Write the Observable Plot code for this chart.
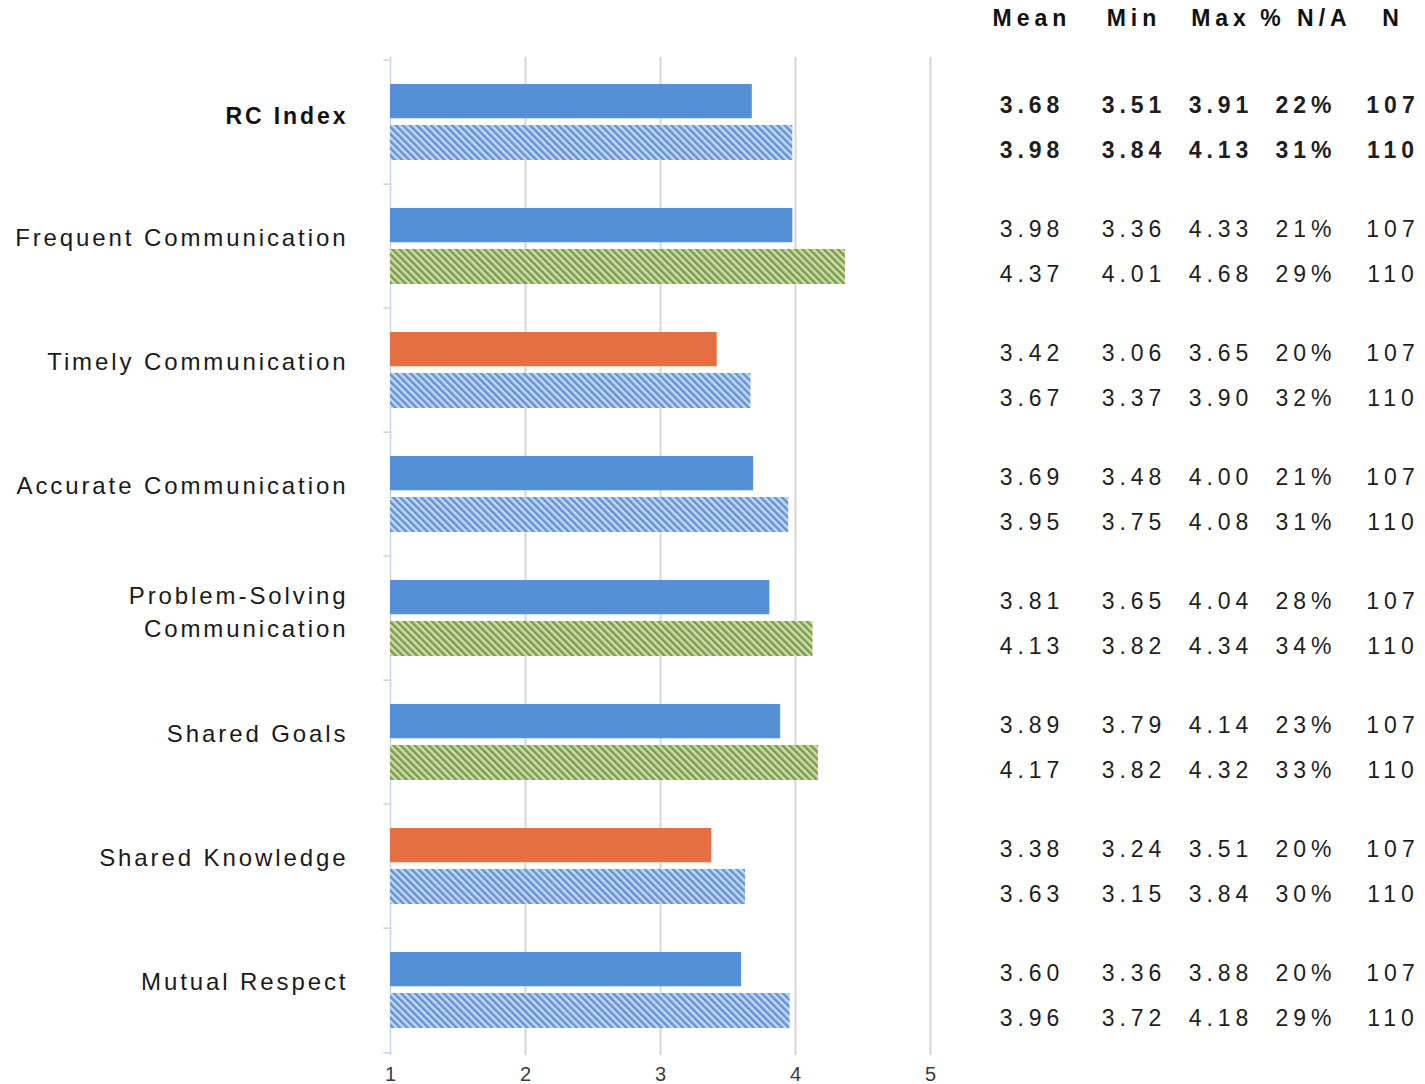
<!DOCTYPE html>
<html><head><meta charset="utf-8">
<script src="https://cdn.jsdelivr.net/npm/d3@7"></script>
<script src="https://cdn.jsdelivr.net/npm/@observablehq/plot@0.6"></script>
<style>body{margin:0;background:#fff;}</style>
</head><body><div id="chart"></div>
<script>
// ---- data ----
const categories = ["RC Index","Frequent Communication","Timely Communication","Accurate Communication","Problem-Solving\nCommunication","Shared Goals","Shared Knowledge","Mutual Respect"];
const mean1 = [3.68,3.98,3.42,3.69,3.81,3.89,3.38,3.60];
const min1  = [3.51,3.36,3.06,3.48,3.65,3.79,3.24,3.36];
const max1  = [3.91,4.33,3.65,4.00,4.04,4.14,3.51,3.88];
const na1   = ["22%","21%","20%","21%","28%","23%","20%","20%"];
const n1    = [107,107,107,107,107,107,107,107];
const mean2 = [3.98,4.37,3.67,3.95,4.13,4.17,3.63,3.96];
const min2  = [3.84,4.01,3.37,3.75,3.82,3.82,3.15,3.72];
const max2  = [4.13,4.68,3.90,4.08,4.34,4.32,3.84,4.18];
const na2   = ["31%","29%","32%","31%","34%","33%","30%","29%"];
const n2    = [110,110,110,110,110,110,110,110];
// status flags: series 1 "low" drawn orange; series 2 "higher" drawn green hatch
const status1 = ["ok","ok","low","ok","ok","ok","low","ok"];
const status2 = ["same","higher","same","same","higher","higher","same","same"];
const headers = ["Mean","Min","Max","% N/A","N"];
const xTicks = [1,2,3,4,5];

// ---- build ----
const rows = categories.map((c,i)=>({cat:c, i, mean1:mean1[i], min1:min1[i], max1:max1[i], na1:na1[i], n1:n1[i],
  mean2:mean2[i], min2:min2[i], max2:max2[i], na2:na2[i], n2:n2[i], s1:status1[i], s2:status2[i]}));
const first = rows.filter(d => d.i === 0), rest = rows.filter(d => d.i > 0);

const W = 1425, H = 1084, mTop = 57, mBottom = 29, mLeft = 390, mRight = 495;
const bandH = (H - mTop - mBottom) / categories.length;
const FONT = "'Liberation Sans', Arial, sans-serif";
const BLUE = "#5590d6", ORANGE = "#e56f42";
const colCenters = [1029, 1131, 1218, 1303, 1390];
const keys1 = ["mean1","min1","max1","na1","n1"];
const keys2 = ["mean2","min2","max2","na2","n2"];
const fmt = (k) => (d) => (k.startsWith("mean") || k.startsWith("min") || k.startsWith("max")) ? d[k].toFixed(2) : String(d[k]);

const tableFont = 23, tableLS = 5, labelLS = 2.9;
const R = W - mRight;
const tableMarks = [];
colCenters.forEach((cx, j) => {
  const dx = cx - R + tableLS / 2;
  for (const [subset, weight] of [[first, "bold"], [rest, "normal"]]) {
    tableMarks.push(Plot.text(subset, {y: "cat", frameAnchor: "right", dx, dy: -17, text: fmt(keys1[j]),
      fontSize: tableFont, fontWeight: weight, fill: "#1e1e1e", textAnchor: "middle"}));
    tableMarks.push(Plot.text(subset, {y: "cat", frameAnchor: "right", dx, dy: 28, text: fmt(keys2[j]),
      fontSize: tableFont, fontWeight: weight, fill: "#1e1e1e", textAnchor: "middle"}));
  }
  tableMarks.push(Plot.text([headers[j]], {frameAnchor: "top-right", lineAnchor: "middle", dx,
    dy: 18 - mTop, text: d => d, fontSize: tableFont, fontWeight: "bold", fill: "#111", textAnchor: "middle"}));
});

const single = rest.filter(d => !d.cat.includes("\n")), multi = rest.filter(d => d.cat.includes("\n"));
const labelDx = -45 + labelLS;

const chart = Plot.plot({
  width: W, height: H,
  marginTop: mTop, marginBottom: mBottom, marginLeft: mLeft, marginRight: mRight,
  style: {fontFamily: FONT, background: "#fff", overflow: "visible"},
  x: {domain: [1,5], axis: null},
  y: {type: "band", domain: categories, padding: 0, axis: null},
  marks: [
    Plot.ruleX([2,3,4,5], {stroke: "#d6d6d6", strokeWidth: 2}),
    Plot.ruleX([1], {stroke: "#c6d4e8", strokeWidth: 1.5}),
    Plot.ruleY(categories, {y: d => d, x1: 0.95, x2: 1, stroke: "#c6d4e8", strokeWidth: 1.5, dy: -bandH/2}),
    Plot.ruleY([categories[categories.length-1]], {y: d => d, x1: 0.95, x2: 1, stroke: "#c6d4e8", strokeWidth: 1.5, dy: bandH/2}),
    // series 1 (solid)
    Plot.barX(rows.filter(d => d.s1 === "ok"), {y: "cat", x1: 1, x2: "mean1", fill: BLUE, insetTop: 24, insetBottom: bandH - 59}),
    Plot.barX(rows.filter(d => d.s1 === "low"), {y: "cat", x1: 1, x2: "mean1", fill: ORANGE, insetTop: 24, insetBottom: bandH - 59}),
    // series 2 (hatched)
    Plot.barX(rows.filter(d => d.s2 === "same"), {y: "cat", x1: 1, x2: "mean2", fill: "url(#hatchBlue)", insetTop: 65, insetBottom: 24}),
    Plot.barX(rows.filter(d => d.s2 === "higher"), {y: "cat", x1: 1, x2: "mean2", fill: "url(#hatchGreen)", insetTop: 65, insetBottom: 24}),
    // x tick labels
    Plot.text(xTicks, {x: d => d, frameAnchor: "bottom", dy: 25, text: d => String(d), fontSize: 20, fill: "#3a3a3a"}),
    // category labels
    Plot.text(first, {y: "cat", frameAnchor: "left", dx: labelDx, dy: -6, text: "cat", textAnchor: "end",
      fontSize: 23, fontWeight: "bold", fill: "#111"}),
    Plot.text(single, {y: "cat", frameAnchor: "left", dx: labelDx, dy: -8, text: "cat", textAnchor: "end",
      fontSize: 24, fill: "#1a1a1a"}),
    Plot.text(multi, {y: "cat", frameAnchor: "left", dx: labelDx, dy: -9, text: "cat", textAnchor: "end",
      fontSize: 24, fill: "#1a1a1a", lineHeight: 1.375}),
    ...tableMarks
  ]
});

const svg = d3.select(chart);
const defs = svg.insert("defs", ":first-child");
function hatch(id, light, dark) {
  const p = defs.append("pattern").attr("id", id).attr("patternUnits", "userSpaceOnUse")
    .attr("width", 5).attr("height", 5).attr("patternTransform", "rotate(-45)");
  p.append("rect").attr("width", 5).attr("height", 5).attr("fill", light);
  p.append("rect").attr("width", 2.5).attr("height", 5).attr("fill", dark);
}
hatch("hatchBlue", "#c6d8f1", "#6293d8");
hatch("hatchGreen", "#cddcb3", "#7d9c48");
// letter spacing: category labels vs table
const textGroups = svg.selectAll("g[aria-label='text']").nodes();
textGroups.forEach((g, idx) => {
  if (idx === 0) return; // x tick labels
  d3.select(g).style("letter-spacing", (idx <= 3 ? labelLS : tableLS) + "px");
});
document.getElementById("chart").appendChild(chart);
</script>
</body></html>
